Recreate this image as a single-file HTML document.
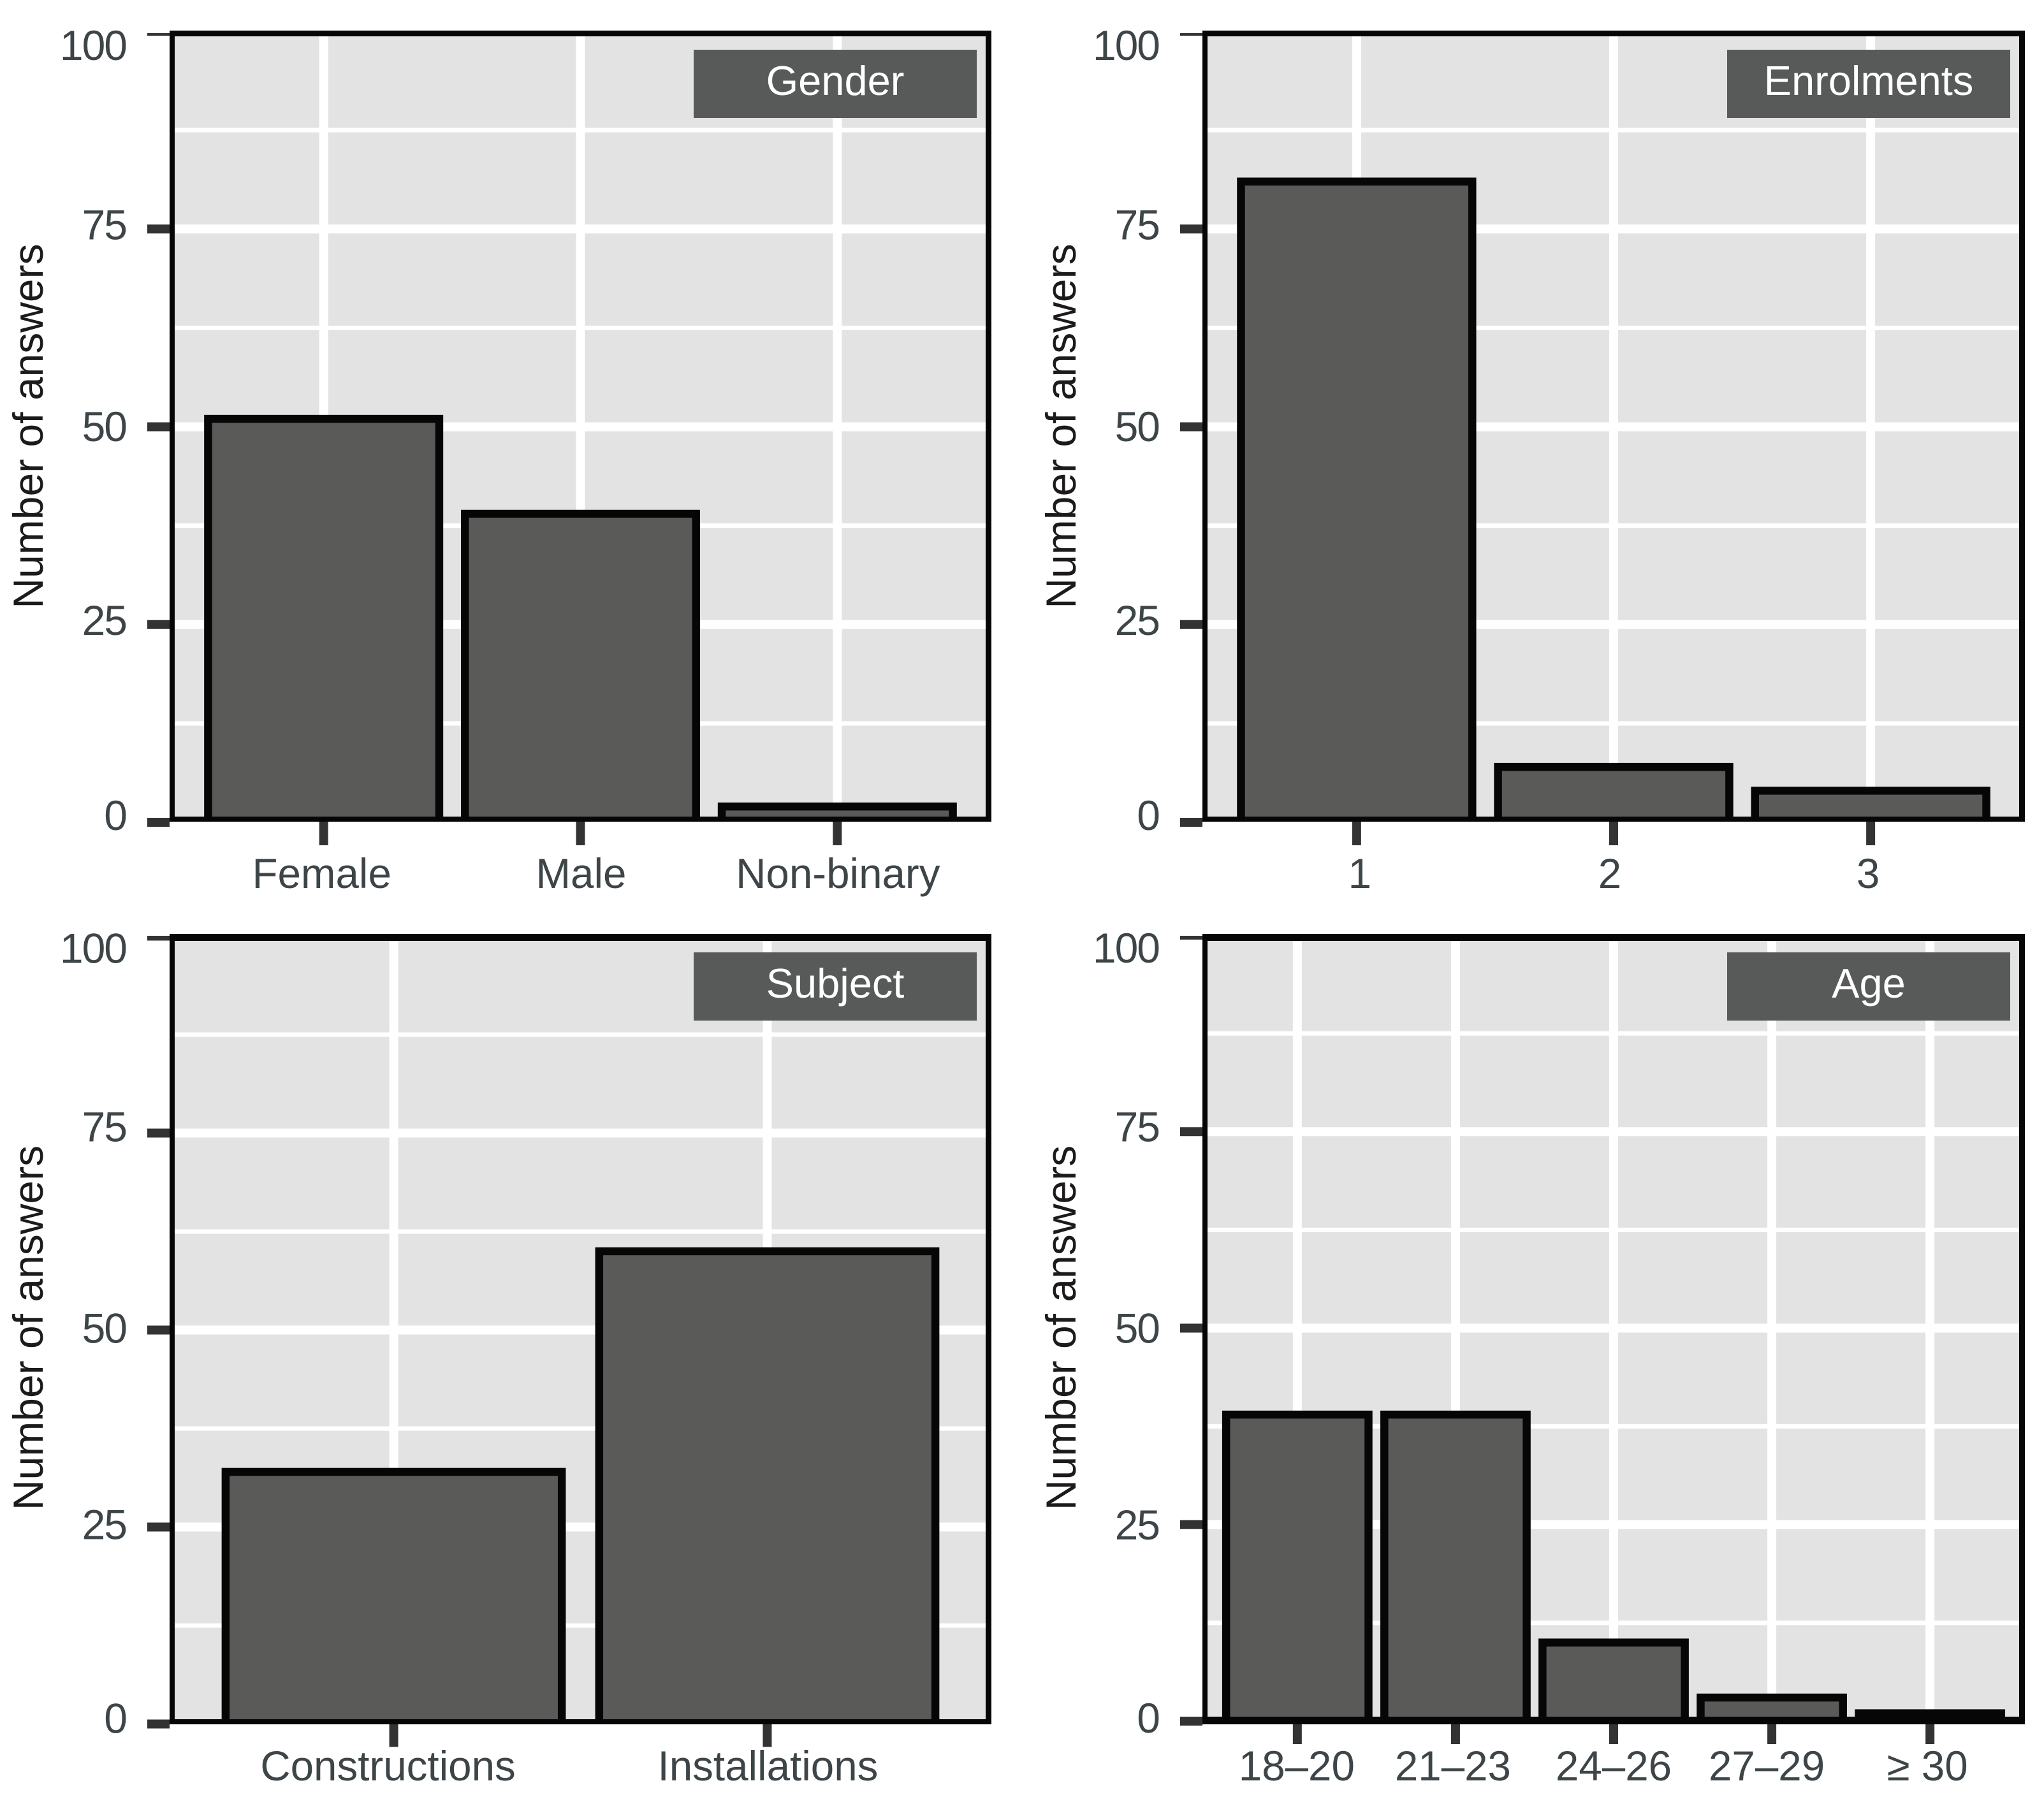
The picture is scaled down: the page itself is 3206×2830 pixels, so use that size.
<!DOCTYPE html>
<html lang="en">
<head>
<meta charset="utf-8">
<title>Survey answers by gender, enrolments, subject and age</title>
<style>
html,body{margin:0;padding:0;background:#fff;}
svg{display:block;}
text{font-family:"Liberation Sans",Arial,sans-serif;}
</style>
</head>
<body>
<svg id="figure" xmlns="http://www.w3.org/2000/svg" width="3206" height="2830" viewBox="0 0 3206 2830"></svg>
<script>
const genderCategories = ["Female", "Male", "Non-binary"];
const genderCounts = [51, 39, 2];
const enrolmentCategories = ["1", "2", "3"];
const enrolmentCounts = [81, 7, 4];
const subjectCategories = ["Constructions", "Installations"];
const subjectCounts = [32, 60];
const ageCategories = ["18\u201320", "21\u201323", "24\u201326", "27\u201329", "\u2265 30"];
const ageCounts = [39, 39, 10, 3, 1];
const yMajorTicks = [0, 25, 50, 75, 100];
const yTickLabels = ["0", "25", "50", "75", "100"];
const yMinorTicks = [12.5, 37.5, 62.5, 87.5];

const NS = "http://www.w3.org/2000/svg";
const figure = document.getElementById("figure");

function mk(tag, attrs, parent, text) {
  const node = document.createElementNS(NS, tag);
  for (const key in attrs) node.setAttribute(key, attrs[key]);
  if (text !== undefined) node.textContent = text;
  parent.appendChild(node);
  return node;
}

function drawPanel(cfg, categories, counts) {
  const group = mk("g", {}, figure);
  
  

  const yScale = v => cfg.y0 - v * cfg.unit;
  const step = (cfg.x1 - cfg.x0) / (categories.length - 1 + 1.2);
  const xScale = i => cfg.x0 + (i + 0.6) * step;

  const clipId = cfg.key + "-clip";
  const clip = mk("clipPath", { id: clipId }, group);
  mk("rect", { x: cfg.x0, y: cfg.top, width: cfg.x1 - cfg.x0, height: cfg.bottom - cfg.top }, clip);

  const bg = mk("rect", { x: cfg.x0, y: cfg.top, width: cfg.x1 - cfg.x0, height: cfg.bottom - cfg.top, fill: "#e3e3e3" }, group);
  
  

  const plot = mk("g", { "clip-path": "url(#" + clipId + ")" }, group);
  
  

  yMinorTicks.forEach(v => {
    const line = mk("rect", { x: cfg.x0, y: yScale(v) - 3.5, width: cfg.x1 - cfg.x0, height: 7, fill: "#fff" }, plot);
    
    
  });
  yMajorTicks.forEach(v => {
    const line = mk("rect", { x: cfg.x0, y: yScale(v) - 7, width: cfg.x1 - cfg.x0, height: 14, fill: "#fff" }, plot);
    
    
  });
  categories.forEach((c, i) => {
    const line = mk("rect", { x: xScale(i) - 7, y: cfg.top, width: 14, height: cfg.bottom - cfg.top, fill: "#fff" }, plot);
    
    
  });

  counts.forEach((v, i) => {
    const halfWidth = step * 0.45;
    const bar = mk("rect", {
      x: xScale(i) - halfWidth,
      y: yScale(v),
      width: halfWidth * 2,
      height: yScale(0) - yScale(v) + 20,
      fill: "#5a5a58",
      stroke: "#060606",
      "stroke-width": 12.5
    }, plot);
    
    
  });

  const strip = mk("rect", { x: cfg.stripX, y: cfg.stripY, width: 444, height: 107, fill: "#585a59" }, group);
  
  
  const stripText = mk("text", {
    x: cfg.stripX + 222, y: cfg.stripY + 71, "text-anchor": "middle", "font-size": 65, fill: "#ffffff"
  }, group, cfg.title);
  
  

  const frame = [
    [cfg.x0, cfg.top, cfg.x1 - cfg.x0, cfg.topW],
    [cfg.x0, cfg.bottom - cfg.botW, cfg.x1 - cfg.x0, cfg.botW],
    [cfg.x0, cfg.top, 8, cfg.bottom - cfg.top],
    [cfg.x1 - 9, cfg.top, 9, cfg.bottom - cfg.top]
  ];
  frame.forEach(f => {
    const edge = mk("rect", { x: f[0], y: f[1], width: f[2], height: f[3], fill: "#060606" }, group);
    
    
  });

  yMajorTicks.forEach((v, i) => {
    const start = Math.max(yScale(v) - 7, cfg.tickClipTop);
    const tick = mk("rect", { x: cfg.x0 - 35, y: start, width: 35, height: yScale(v) + 7 - start, fill: "#333333" }, group);
    
    
    const label = mk("text", {
      x: cfg.x0 - 68, y: yScale(v) + cfg.yLabelNudge[i], "text-anchor": "end", "font-size": 66, "letter-spacing": -2, fill: "#3d4548"
    }, group, yTickLabels[i]);
    
    
  });

  categories.forEach((c, i) => {
    const tick = mk("rect", { x: xScale(i) - 7, y: cfg.bottom, width: 14, height: cfg.y0 + 36 - cfg.bottom, fill: "#333333" }, group);
    
    
    const label = mk("text", {
      x: xScale(i) + cfg.xLabelNudge[i], y: cfg.xLabelY, "text-anchor": "middle", "font-size": 65.5, fill: "#3d4548"
    }, group, c);
    
    
  });

  const yTitle = mk("text", {
    x: cfg.x0 - 199, y: cfg.titleMid, "text-anchor": "middle", "font-size": 66, fill: "#1d1a1a",
    transform: "rotate(-90 " + (cfg.x0 - 199) + " " + cfg.titleMid + ")"
  }, group, "Number of answers");
  
  
}

drawPanel({
  key: "gender", title: "Gender",
  x0: 266, x1: 1555, top: 48, bottom: 1289, topW: 9, botW: 8,
  y0: 1290, unit: 12.41, tickClipTop: 52,
  stripX: 1088, stripY: 78, xLabelY: 1393, titleMid: 668.5,
  yLabelNudge: [12, 16, 22.5, 16, 45], xLabelNudge: [-3, 1, 1]
}, genderCategories, genderCounts);

drawPanel({
  key: "enrolments", title: "Enrolments",
  x0: 1886, x1: 3176, top: 48, bottom: 1289, topW: 9, botW: 8,
  y0: 1290, unit: 12.41, tickClipTop: 52,
  stripX: 2709, stripY: 78, xLabelY: 1393, titleMid: 668.5,
  yLabelNudge: [12, 16, 22.5, 16, 45], xLabelNudge: [5, -6, -4]
}, enrolmentCategories, enrolmentCounts);

drawPanel({
  key: "subject", title: "Subject",
  x0: 266, x1: 1555, top: 1465, bottom: 2705, topW: 11, botW: 8,
  y0: 2704.5, unit: 12.36, tickClipTop: 1468,
  stripX: 1088, stripY: 1494, xLabelY: 2793, titleMid: 2083,
  yLabelNudge: [14, 19, 20, 13, 42], xLabelNudge: [-9, 1]
}, subjectCategories, subjectCounts);

drawPanel({
  key: "age", title: "Age",
  x0: 1886, x1: 3176, top: 1465, bottom: 2705, topW: 11, botW: 12,
  y0: 2700, unit: 12.33, tickClipTop: 1468,
  stripX: 2709, stripY: 1494, xLabelY: 2793, titleMid: 2083,
  yLabelNudge: [18, 23, 23, 15, 43], xLabelNudge: [-1, -4, 0, -8, -4]
}, ageCategories, ageCounts);
</script>
</body>
</html>
